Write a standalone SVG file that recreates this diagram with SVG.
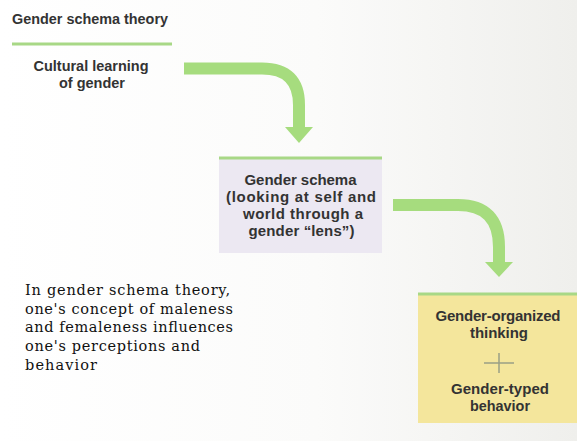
<svg xmlns="http://www.w3.org/2000/svg" width="577" height="441" viewBox="0 0 577 441">
<defs>
<linearGradient id="page" x1="0" y1="0" x2="1" y2="0">
<stop offset="0" stop-color="#ffffff"/>
<stop offset="0.55" stop-color="#fbfbfa"/>
<stop offset="1" stop-color="#efefec"/>
</linearGradient>
</defs>
<style>
.lbl{font-family:"Liberation Sans",Arial,sans-serif;font-weight:bold;font-size:15px;fill:#333;text-anchor:middle}
.title{font-family:"Liberation Sans",Arial,sans-serif;font-weight:bold;font-size:14px;fill:#333}
.cap{font-family:"DejaVu Serif","Liberation Serif",serif;font-size:14.5px;fill:#111}
.arrow{fill:none;stroke:#a6dc7e;stroke-width:12}
.head{fill:#a6dc7e}
.topline{stroke:#a8d886;stroke-width:3}
</style>
<rect width="577" height="441" fill="url(#page)"/>
<g id="title">
<text class="title" x="12" y="24" textLength="156" lengthAdjust="spacingAndGlyphs">Gender schema theory</text>
<line class="topline" x1="12" y1="44" x2="172" y2="44"/>
</g>
<g id="cultural">
<text class="lbl" x="91" y="71" textLength="115" lengthAdjust="spacingAndGlyphs">Cultural learning</text>
<text class="lbl" x="92" y="88" textLength="66" lengthAdjust="spacingAndGlyphs">of gender</text>
</g>
<g id="connectors">
<path class="arrow" d="M184,68.5 H262 Q299,68.5 299,105 V128"/>
<polygon class="head" points="285,127 313,127 299,143"/>
<path class="arrow" d="M393,205 H458 Q499,205 499,247 V263"/>
<polygon class="head" points="485,262 513,262 499,277"/>
</g>
<g id="schema">
<rect x="219" y="157" width="163" height="96" fill="#ece8f2"/>
<line class="topline" x1="219" y1="158" x2="382" y2="158"/>
<text class="lbl" x="300.5" y="185" textLength="112">Gender schema</text>
<text class="lbl" x="301" y="202" textLength="150">(looking at self and</text>
<text class="lbl" x="303" y="219" textLength="120">world through a</text>
<text class="lbl" x="301.5" y="236" textLength="106">gender “lens”)</text>
</g>
<g id="outcome">
<rect x="418" y="293" width="159" height="130" fill="#f4e69c"/>
<line class="topline" x1="418" y1="294" x2="577" y2="294"/>
<text class="lbl" x="498" y="321" textLength="125">Gender-organized</text>
<text class="lbl" x="499" y="338" textLength="58">thinking</text>
<line x1="484" y1="363" x2="514" y2="363" stroke="#9a9f86" stroke-width="1.5"/>
<line x1="499" y1="353" x2="499" y2="373" stroke="#9a9f86" stroke-width="1.5"/>
<text class="lbl" x="500" y="394" textLength="98">Gender-typed</text>
<text class="lbl" x="500" y="411" textLength="60" lengthAdjust="spacingAndGlyphs">behavior</text>
</g>
<g id="caption">
<text class="cap" x="25" y="295" textLength="205">In gender schema theory,</text>
<text class="cap" x="25" y="314" textLength="208">one's concept of maleness</text>
<text class="cap" x="25" y="332" textLength="208">and femaleness influences</text>
<text class="cap" x="25" y="351" textLength="175">one's perceptions and</text>
<text class="cap" x="25" y="370" textLength="72">behavior</text>
</g>
</svg>
